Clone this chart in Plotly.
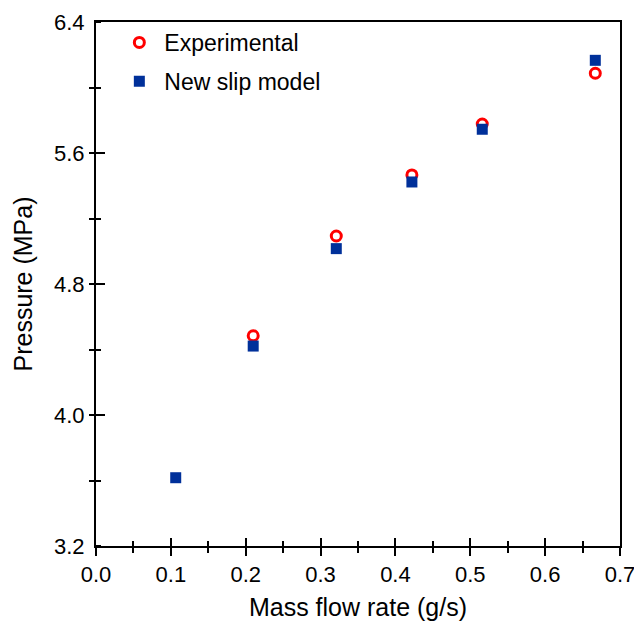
import plotly.graph_objects as go

# Data
exp_x = [0.210, 0.321, 0.422, 0.516, 0.667]
exp_y = [4.484, 5.093, 5.466, 5.777, 6.087]
model_x = [0.1065, 0.210, 0.321, 0.422, 0.516, 0.667]
model_y = [3.617, 4.421, 5.016, 5.423, 5.745, 6.166]

x_ticks = [0.0, 0.1, 0.2, 0.3, 0.4, 0.5, 0.6, 0.7]
x_tick_labels = ["0.0", "0.1", "0.2", "0.3", "0.4", "0.5", "0.6", "0.7"]
x_minor = [0.05, 0.15, 0.25, 0.35, 0.45, 0.55, 0.65]
y_ticks = [3.2, 4.0, 4.8, 5.6, 6.4]
y_tick_labels = ["3.2", "4.0", "4.8", "5.6", "6.4"]

x_title = "Mass flow rate (g/s)"
y_title = "Pressure (MPa)"
series_names = ["Experimental", "New slip model"]

FONT = "Liberation Sans, Arial, sans-serif"

fig = go.Figure()
fig.add_trace(go.Scatter(
    x=exp_x, y=exp_y, mode="markers", name=series_names[0], legendgroup="a",
    marker=dict(symbol="circle-open", size=10, color="#ff0000",
                line=dict(width=3, color="#ff0000")),
))
fig.add_trace(go.Scatter(
    x=model_x, y=model_y, mode="markers", name=series_names[1], legendgroup="b",
    marker=dict(symbol="square", size=11, color="#00309a",
                line=dict(width=0)),
))
# empty trace anchoring the overlay axes (used for crossing ticks)
fig.add_trace(go.Scatter(x=[], y=[], xaxis="x2", yaxis="y2", showlegend=False,
                         hoverinfo="skip"))

tickfont = dict(family=FONT, size=22, color="black")
fig.update_layout(
    width=634, height=625,
    margin=dict(l=96, r=14, t=22, b=79),
    paper_bgcolor="white", plot_bgcolor="white",
    font=dict(family=FONT, color="black"),
    showlegend=True,
    legend=dict(x=0.035, y=1.002, xanchor="left", yanchor="top",
                font=dict(family=FONT, size=23, color="black"),
                bgcolor="rgba(0,0,0,0)", tracegroupgap=6,
                itemwidth=40),
    xaxis=dict(range=[0, 0.7], tickmode="array", tickvals=x_ticks, ticktext=x_tick_labels,
               ticks="outside", ticklen=8, tickwidth=1.5, tickcolor="black",
               ticklabeloverflow="allow", automargin=False,
               minor=dict(tickmode="array", tickvals=x_minor, ticks="outside", ticklen=5,
                          tickwidth=1.5, tickcolor="black"),
               showline=True, linecolor="black", linewidth=2, mirror=True,
               showgrid=False, zeroline=False, tickfont=tickfont,
               title=dict(text=x_title, font=dict(family=FONT, size=25, color="black"),
                          standoff=12)),
    yaxis=dict(range=[3.2, 6.4], tickmode="array", tickvals=y_ticks, ticktext=y_tick_labels,
               ticks="inside", ticklen=9, tickwidth=1.5, tickcolor="black",
               ticklabeloverflow="allow", automargin=False, ticklabelstandoff=5,
               minor=dict(dtick=0.4, tick0=3.2, ticks="outside", ticklen=5, tickwidth=1.5,
                          tickcolor="black"),
               showline=True, linecolor="black", linewidth=2, mirror=True,
               showgrid=False, zeroline=False, tickfont=tickfont,
               title=dict(text=y_title, font=dict(family=FONT, size=25, color="black"),
                          standoff=14)),
    xaxis2=dict(overlaying="x", anchor="y2", range=[0, 0.7], tickmode="array",
                tickvals=x_ticks, automargin=False,
                ticks="inside", ticklen=8, tickwidth=1.5, tickcolor="black",
                minor=dict(tickmode="array", tickvals=x_minor, ticks="inside", ticklen=5,
                           tickwidth=1.5, tickcolor="black"),
                showticklabels=False, showline=False, showgrid=False, zeroline=False),
    yaxis2=dict(overlaying="y", anchor="x2", range=[3.2, 6.4], tickmode="array",
                tickvals=y_ticks, automargin=False,
                ticks="", minor=dict(dtick=0.4, tick0=3.2, ticks="inside", ticklen=5,
                                     tickwidth=1.5, tickcolor="black"),
                showticklabels=False, showline=False, showgrid=False, zeroline=False),
)

fig.write_html("out.html")
